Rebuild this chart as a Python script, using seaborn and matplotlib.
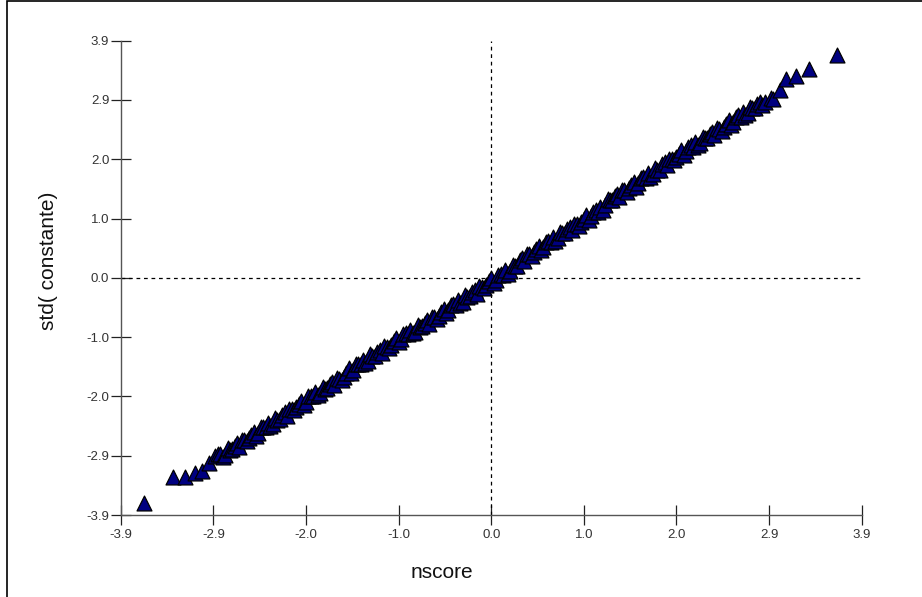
import numpy as np
import pandas as pd
import matplotlib
matplotlib.use("Agg")
import matplotlib.pyplot as plt
import seaborn as sns
from matplotlib.patches import Rectangle

# normal scores (x) and standardised residuals (y)
lower_nscore = [-3.65, -3.35, -3.22, -3.12, -3.04, -2.97, -2.91, -2.88]
lower_std = [-3.70, -3.27, -3.28, -3.21, -3.18, -3.05, -2.93, -2.90]

band_nscore = [
    -2.85, -2.80, -2.75, -2.70, -2.65, -2.60, -2.55, -2.50, -2.45, -2.40,
    -2.35, -2.30, -2.25, -2.20, -2.15, -2.10, -2.05, -2.00, -1.95, -1.90,
    -1.85, -1.80, -1.75, -1.70, -1.65, -1.60, -1.55, -1.50, -1.45, -1.40,
    -1.35, -1.30, -1.25, -1.20, -1.15, -1.10, -1.05, -1.00, -0.95, -0.90,
    -0.85, -0.80, -0.75, -0.70, -0.65, -0.60, -0.55, -0.50, -0.45, -0.40,
    -0.35, -0.30, -0.25, -0.20, -0.15, -0.10, -0.05, 0.00, 0.05, 0.10,
    0.15, 0.20, 0.25, 0.30, 0.35, 0.40, 0.45, 0.50, 0.55, 0.60,
    0.65, 0.70, 0.75, 0.80, 0.85, 0.90, 0.95, 1.00, 1.05, 1.10,
    1.15, 1.20, 1.25, 1.30, 1.35, 1.40, 1.45, 1.50, 1.55, 1.60,
    1.65, 1.70, 1.75, 1.80, 1.85, 1.90, 1.95, 2.00, 2.05, 2.10,
    2.15, 2.20, 2.25, 2.30, 2.35, 2.40, 2.45, 2.50, 2.55, 2.60,
    2.65, 2.70, 2.75, 2.80, 2.85,
]
band_std = [
    -2.89, -2.91, -2.83, -2.76, -2.78, -2.67, -2.64, -2.53, -2.55, -2.45,
    -2.39, -2.41, -2.33, -2.25, -2.27, -2.16, -2.13, -2.02, -2.04, -1.94,
    -1.88, -1.90, -1.82, -1.75, -1.77, -1.66, -1.63, -1.49, -1.51, -1.41,
    -1.35, -1.37, -1.29, -1.22, -1.24, -1.13, -1.10, -0.99, -1.01, -0.91,
    -0.85, -0.89, -0.81, -0.74, -0.76, -0.65, -0.62, -0.51, -0.53, -0.43,
    -0.37, -0.39, -0.31, -0.24, -0.26, -0.15, -0.12, -0.01, -0.03, 0.07,
    0.13, 0.11, 0.19, 0.30, 0.28, 0.39, 0.42, 0.53, 0.51, 0.61,
    0.67, 0.65, 0.73, 0.80, 0.78, 0.89, 0.92, 1.03, 1.01, 1.11,
    1.17, 1.20, 1.28, 1.35, 1.33, 1.44, 1.47, 1.58, 1.56, 1.66,
    1.72, 1.70, 1.78, 1.87, 1.85, 1.96, 1.99, 2.10, 2.08, 2.18,
    2.24, 2.22, 2.30, 2.37, 2.35, 2.45, 2.48, 2.59, 2.57, 2.67,
    2.73, 2.71, 2.79, 2.86, 2.84,
]

band2_nscore = [
    -2.825, -2.775, -2.725, -2.675, -2.625, -2.575, -2.525, -2.475, -2.425, -2.375,
    -2.325, -2.275, -2.225, -2.175, -2.125, -2.075, -2.025, -1.975, -1.925, -1.875,
    -1.825, -1.775, -1.725, -1.675, -1.625, -1.575, -1.525, -1.475, -1.425, -1.375,
    -1.325, -1.275, -1.225, -1.175, -1.125, -1.075, -1.025, -0.975, -0.925, -0.875,
    -0.825, -0.775, -0.725, -0.675, -0.625, -0.575, -0.525, -0.475, -0.425, -0.375,
    -0.325, -0.275, -0.225, -0.175, -0.125, -0.075, -0.025, 0.025, 0.075, 0.125,
    0.175, 0.225, 0.275, 0.325, 0.375, 0.425, 0.475, 0.525, 0.575, 0.625,
    0.675, 0.725, 0.775, 0.825, 0.875, 0.925, 0.975, 1.025, 1.075, 1.125,
    1.175, 1.225, 1.275, 1.325, 1.375, 1.425, 1.475, 1.525, 1.575, 1.625,
    1.675, 1.725, 1.775, 1.825, 1.875, 1.925, 1.975, 2.025, 2.075, 2.125,
    2.175, 2.225, 2.275, 2.325, 2.375, 2.425, 2.475, 2.525, 2.575, 2.625,
    2.675, 2.725, 2.775, 2.825,
]
band2_std = [
    -2.94, -2.80, -2.82, -2.72, -2.66, -2.69, -2.58, -2.60, -2.46, -2.46,
    -2.44, -2.30, -2.32, -2.21, -2.15, -2.18, -2.07, -2.09, -1.95, -1.95,
    -1.93, -1.79, -1.81, -1.71, -1.65, -1.68, -1.57, -1.56, -1.42, -1.42,
    -1.40, -1.26, -1.28, -1.18, -1.12, -1.15, -1.04, -1.06, -0.92, -0.92,
    -0.90, -0.78, -0.80, -0.70, -0.64, -0.67, -0.56, -0.58, -0.44, -0.44,
    -0.42, -0.28, -0.30, -0.20, -0.14, -0.17, -0.06, -0.08, 0.05, 0.05,
    0.07, 0.21, 0.19, 0.33, 0.39, 0.36, 0.47, 0.45, 0.59, 0.59,
    0.61, 0.75, 0.73, 0.83, 0.89, 0.86, 0.97, 0.95, 1.09, 1.09,
    1.11, 1.30, 1.28, 1.38, 1.44, 1.41, 1.52, 1.50, 1.64, 1.64,
    1.66, 1.80, 1.78, 1.90, 1.96, 1.93, 2.04, 2.02, 2.16, 2.16,
    2.18, 2.32, 2.30, 2.40, 2.46, 2.42, 2.53, 2.51, 2.65, 2.65,
    2.67, 2.81, 2.79, 2.89,
]

upper_nscore = [2.88, 2.94, 2.97, 3.04, 3.10, 3.21, 3.35, 3.64]
upper_std = [2.90, 2.95, 2.94, 3.09, 3.27, 3.32, 3.43, 3.67]

tick_labels = ["-3.9", "-2.9", "-2.0", "-1.0", "0.0", "1.0", "2.0", "2.9", "3.9"]

df = pd.DataFrame({
    "nscore": lower_nscore + band_nscore + band2_nscore + upper_nscore,
    "std": lower_std + band_std + band2_std + upper_std,
}).sort_values("nscore", kind="stable")

sns.set_theme(style="white")
plt.rcParams["font.family"] = ["Liberation Sans", "DejaVu Sans"]

W, H = 922, 597
fig = plt.figure(figsize=(W / 100, H / 100), dpi=100)
fig.patch.set_facecolor("white")

# outer frame around the chart
fig.add_artist(Rectangle((7 / W, -0.02), 1.05, 1 - 1.2 / H + 0.02,
                         transform=fig.transFigure, fill=False,
                         edgecolor="black", linewidth=1.2))

left, right = 120.7 / W, 861.7 / W
bottom, top = (H - 515) / H, (H - 40.7) / H
ax = fig.add_axes([left, bottom, right - left, top - bottom])

lim = 3.9
ax.set_xlim(-lim, lim)
ax.set_ylim(-lim, lim)

ax.axvline(0, color="black", linewidth=0.9, linestyle=(0, (3, 3)), zorder=1)
ax.axhline(0, color="black", linewidth=0.9, linestyle=(0, (3, 3)), zorder=1)

sns.scatterplot(data=df, x="nscore", y="std", marker="^", s=115,
                color="#000080", edgecolor="black", linewidth=0.9,
                ax=ax, zorder=3, clip_on=False, legend=False)

ticks = np.linspace(-lim, lim, len(tick_labels))
ax.set_xticks(ticks)
ax.set_yticks(ticks)
ax.set_xticklabels(tick_labels)
ax.set_yticklabels(tick_labels)
ax.tick_params(axis="both", which="major", bottom=True, left=True,
               direction="inout", length=14.5, width=0.9,
               color="#222222", labelsize=9.5, labelcolor="#333333", pad=1)
ax.tick_params(axis="x", pad=3)

for side in ("top", "right"):
    ax.spines[side].set_visible(False)
for side in ("left", "bottom"):
    ax.spines[side].set_color("#555555")
    ax.spines[side].set_linewidth(1.0)

ax.set_xlabel("")
ax.set_ylabel("")
fig.text(441.7 / W, 1 - 572 / H, "nscore", fontsize=15, color="#111111",
         ha="center", va="center")
fig.text(49 / W, 1 - 261 / H, "std( constante)", fontsize=15, color="#111111",
         ha="center", va="center", rotation=90)

fig.savefig("out.png", dpi=100, facecolor="white")
